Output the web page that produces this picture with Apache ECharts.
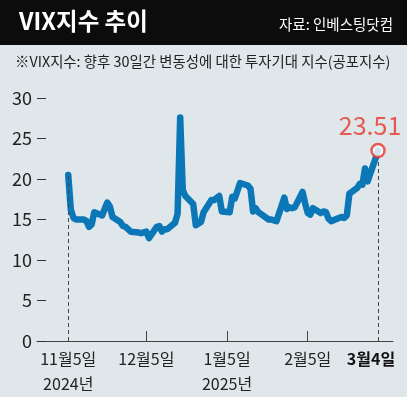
<!DOCTYPE html>
<html>
<head>
<meta charset="utf-8">
<script src="https://cdn.jsdelivr.net/npm/echarts@6/dist/echarts.min.js"></script>
<style>
  html, body { margin: 0; padding: 0; }
  #chart { width: 407px; height: 397px; }
</style>
</head>
<body>
<div id="chart"></div>
<script>
// VIX 일별 종가
const dates = ['2024-11-05', '2024-11-06', '2024-11-07', '2024-11-08', '2024-11-11', '2024-11-12', '2024-11-13', '2024-11-14', '2024-11-15', '2024-11-18',
  '2024-11-19', '2024-11-20', '2024-11-21', '2024-11-22', '2024-11-25', '2024-11-26', '2024-11-27', '2024-11-29', '2024-12-02', '2024-12-03',
  '2024-12-04', '2024-12-05', '2024-12-06', '2024-12-09', '2024-12-10', '2024-12-11', '2024-12-12', '2024-12-13', '2024-12-16', '2024-12-17',
  '2024-12-18', '2024-12-19', '2024-12-20', '2024-12-23', '2024-12-24', '2024-12-26', '2024-12-27', '2024-12-30', '2024-12-31', '2025-01-02',
  '2025-01-03', '2025-01-06', '2025-01-07', '2025-01-08', '2025-01-10', '2025-01-13', '2025-01-14', '2025-01-15', '2025-01-16', '2025-01-17',
  '2025-01-21', '2025-01-22', '2025-01-23', '2025-01-24', '2025-01-27', '2025-01-28', '2025-01-29', '2025-01-30', '2025-01-31', '2025-02-03',
  '2025-02-04', '2025-02-05', '2025-02-06', '2025-02-07', '2025-02-10', '2025-02-11', '2025-02-12', '2025-02-13', '2025-02-14', '2025-02-18',
  '2025-02-19', '2025-02-20', '2025-02-21', '2025-02-24', '2025-02-25', '2025-02-26', '2025-02-27', '2025-02-28', '2025-03-03', '2025-03-04']
const values = [20.5, 16.2, 15.2, 15.0, 15.0, 14.8, 14.1, 14.4, 15.9, 15.5,
  16.3, 17.1, 16.6, 15.3, 14.7, 14.2, 14.1, 13.5, 13.4, 13.3,
  13.4, 13.5, 12.7, 14.1, 14.2, 13.5, 13.8, 13.8, 14.6, 15.7,
  27.6, 18.6, 17.9, 16.9, 14.3, 14.7, 15.9, 17.4, 17.4, 17.9,
  16.0, 15.9, 17.8, 17.6, 19.5, 19.2, 18.8, 16.0, 16.4, 15.9,
  15.0, 15.0, 14.9, 14.8, 17.7, 16.3, 16.5, 16.4, 16.5, 18.4,
  17.0, 15.8, 15.6, 16.4, 15.8, 16.0, 15.9, 15.1, 14.8, 15.3,
  15.2, 15.5, 18.2, 18.9, 19.4, 19.3, 21.3, 19.7, 22.5, 23.51]

// x축 눈금 / 라벨
const tickDates = ['2024-11-05', '2024-12-05', '2025-01-05', '2025-02-05', '2025-03-04']
const tickLabels = ['11월5일\n2024년', '12월5일', '1월5일\n2025년', '2월5일', '3월4일']
const innerTicks = ['2024-12-05', '2025-01-05', '2025-02-05']

const FONT = "'Liberation Sans Narrow', 'Noto Sans CJK KR', sans-serif"
const KFONT = "'Noto Sans CJK KR', sans-serif"
const BLUE = '#0b77b7'
const RED = '#e8342b'

const DAY = 24 * 3600 * 1000
const ts = d => Date.UTC(+d.slice(0, 4), +d.slice(5, 7) - 1, +d.slice(8, 10))
const tickTs = tickDates.map(ts)
const lastDate = dates[dates.length - 1]
const lastValue = values[values.length - 1]

let myChart = echarts.init(document.getElementById('chart'))
myChart.setOption({
  backgroundColor: '#dfe7eb',
  animation: false,
  graphic: [
    { type: 'rect', shape: { x: 0, y: 0, width: 407, height: 45 }, style: { fill: '#0c0c0c' } },
    {
      type: 'text', left: 19, top: 9,
      style: { text: 'VIX지수 추이', fill: '#fff', font: 'bold 23.5px ' + KFONT }
    },
    {
      type: 'text', right: 14, top: 17,
      style: { text: '자료: 인베스팅닷컴', fill: '#fff', font: '14.5px ' + KFONT }
    },
    {
      type: 'text', left: 15, top: 54,
      style: { text: '※VIX지수: 향후 30일간 변동성에 대한 투자기대 지수(공포지수)', fill: '#222', font: '14.4px ' + FONT }
    }
  ],
  grid: { left: 37, right: 14, top: 98, bottom: 56, outerBoundsMode: 'none' },
  xAxis: {
    type: 'value',
    min: ts('2024-10-24'),
    max: ts('2025-03-09') + 0.75 * DAY,
    axisLine: { lineStyle: { color: '#444', width: 1 } },
    axisTick: {
      show: true,
      inside: true,
      length: 10,
      customValues: innerTicks.map(ts),
      lineStyle: { color: '#444' }
    },
    splitLine: { show: false },
    axisLabel: {
      customValues: tickTs,
      showMinLabel: true,
      showMaxLabel: true,
      hideOverlap: false,
      margin: 5,
      color: '#222',
      fontFamily: FONT,
      fontSize: 16,
      lineHeight: 25,
      formatter: function (val) {
        const i = tickTs.indexOf(val)
        if (i === tickTs.length - 1) return '{b|' + tickLabels[i] + '}'
        return i >= 0 ? tickLabels[i] : ''
      },
      rich: {
        b: { fontWeight: 'bold', fontSize: 16, fontFamily: FONT, color: '#111', padding: [0, 14, 0, 0] }
      }
    }
  },
  yAxis: {
    type: 'value',
    min: 0,
    max: 30,
    interval: 5,
    axisLine: { show: false },
    axisTick: { show: true, inside: true, length: 9, lineStyle: { color: '#333' } },
    splitLine: { show: false },
    axisLabel: { margin: 5, color: '#222', fontFamily: FONT, fontSize: 18 }
  },
  series: [
    {
      // 점선 기준선
      type: 'line',
      data: [],
      z: 1,
      markLine: {
        silent: true,
        symbol: 'none',
        label: { show: false },
        lineStyle: { color: '#444', type: [4, 3], width: 1 },
        data: [
          [{ coord: [ts(dates[0]), 0] }, { coord: [ts(dates[0]), values[0]] }],
          [{ coord: [ts(lastDate), 0] }, { coord: [ts(lastDate), lastValue] }]
        ]
      }
    },
    {
      name: 'VIX',
      type: 'line',
      z: 3,
      symbol: 'none',
      lineStyle: { color: BLUE, width: 6.5, join: 'round', cap: 'round' },
      data: dates.map((d, i) => [ts(d), values[i]])
    },
    {
      type: 'scatter',
      z: 5,
      symbolSize: 13,
      itemStyle: { color: '#fff', borderColor: RED, borderWidth: 2.5 },
      label: {
        show: true,
        position: 'top',
        offset: [-8, 0],
        color: RED,
        fontFamily: FONT,
        fontSize: 25,
        formatter: '{@[1]}'
      },
      data: [[ts(lastDate), lastValue]]
    }
  ]
})
</script>
</body>
</html>
